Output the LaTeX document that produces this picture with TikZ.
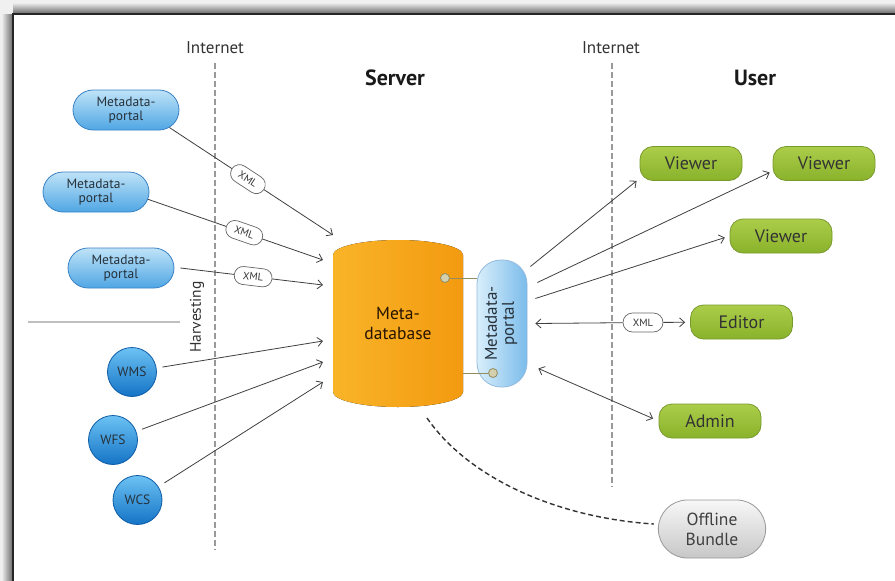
\documentclass[tikz,border=0pt]{standalone}
\usepackage{fontspec}
\setmainfont{PT Sans}
\usetikzlibrary{arrows.meta,shapes.geometric,shapes.misc,calc}
\definecolor{bluetop}{HTML}{BFE3F8}
\definecolor{bluebot}{HTML}{4FA6E4}
\definecolor{blueborder}{HTML}{3A82C4}
\definecolor{circtop}{HTML}{6CC2F3}
\definecolor{circbot}{HTML}{1473C6}
\definecolor{circborder}{HTML}{0E5DA6}
\definecolor{greentop}{HTML}{ABCD4A}
\definecolor{greenbot}{HTML}{8AB22B}
\definecolor{greenborder}{HTML}{789A2C}
\definecolor{orangeL}{HTML}{F9B428}
\definecolor{orangeR}{HTML}{F39A10}
\definecolor{darktext}{HTML}{26313A}
\definecolor{dotcol}{HTML}{B8B078}
\begin{document}
\begin{tikzpicture}[x=1pt,y=-1pt,
  bluepill/.style={rounded rectangle, draw=blueborder, line width=0.8pt,
    top color=bluetop, bottom color=bluebot, minimum width=108pt,
    minimum height=40pt, inner sep=1pt, align=center,
    font=\fontsize{13.5}{14}\selectfont, text=darktext},
  sphere/.style={circle, draw=circborder, line width=0.8pt, top color=circtop,
    bottom color=circbot, minimum size=49pt, inner sep=0pt,
    font=\fontsize{13.5}{14}\selectfont, text=darktext},
  greenpill/.style={rectangle, rounded corners=13pt, draw=greenborder,
    line width=0.8pt, top color=greentop, bottom color=greenbot,
    minimum width=102pt, minimum height=34pt, inner sep=1pt,
    font=\fontsize{18}{18}\selectfont, text=black!80},
  xmlbox/.style={rounded rectangle, draw=black!60, fill=white, line width=0.7pt,
    minimum width=40pt, minimum height=18pt, inner sep=1pt,
    font=\fontsize{10.5}{11}\selectfont, text=black!80},
  arr/.style={draw=black!75, line width=0.8pt, -{Straight Barb[length=5pt,width=9pt]}},
  darr/.style={draw=black!75, line width=0.8pt, {Straight Barb[length=5pt,width=9pt]}-{Straight Barb[length=5pt,width=9pt]}},
  netline/.style={draw=black!40, line width=1.3pt, dash pattern=on 6pt off 3pt},
  heading/.style={font=\fontsize{22}{22}\selectfont\bfseries, text=black!90},
  netlabel/.style={font=\fontsize{17}{17}\selectfont, text=black!80},
  dot/.style={circle, draw=dotcol!80!black, fill=dotcol!60, line width=0.8pt, minimum size=9pt, inner sep=0pt},
  link/.style={draw=dotcol!80!black, line width=0.9pt}
]
\useasboundingbox (0,0) rectangle (895,581);
% frame with shadow
\fill[black!6] (0,0) rectangle (895,581);
\shade[left color=black!8, right color=black!60] (2,14) rectangle (13,581);
\shade[top color=black!8, bottom color=black!60] (13,3) rectangle (895,14);
\fill[white] (13,14) rectangle (895,581);
\draw[line width=2.2pt, black!85] (13,581) -- (13,14) -- (895,14);

% internet lines and labels
\node[netlabel] (net1) at (215,48) {Internet};
\node[netlabel] (net2) at (611,48) {Internet};
\coordinate (n1b) at (215,550);
\coordinate (n2b) at (612,487);
\draw[netline] (net1.south |- 0,63) -- (n1b);
\draw[netline] (n2b |- 0,63) -- (n2b);
\node[heading] (server) at (395,78) {Server};
\node[heading] (user) at (755,78) {User};

% separator and harvesting
\draw[black!25, line width=1.2pt] (28,322) -- (180,322);
\node[rotate=90, font=\fontsize{15.5}{16}\selectfont, text=black!80] (harv) at (197,317) {Harvesting};

% left nodes
\node[bluepill] (mp1) at (126,110) {Metadata-\\portal};
\node[bluepill] (mp2) at (96,192) {Metadata-\\portal};
\node[bluepill] (mp3) at (121,268) {Metadata-\\portal};
\node[sphere] (wms) at (132,372) {WMS};
\node[sphere] (wfs) at (113,440) {WFS};
\node[sphere] (wcs) at (137.5,500) {WCS};

% database cylinder
\fill[left color=orangeL, right color=orangeR]
  (333,255) .. controls (333,246.7) and (362.1,240) .. (398,240)
  .. controls (433.9,240) and (463,246.7) .. (463,255)
  -- (463,392) .. controls (463,400.3) and (433.9,407) .. (398,407)
  .. controls (362.1,407) and (333,400.3) .. (333,392) -- cycle;
\node[minimum width=130pt, minimum height=167pt, align=center,
  font=\fontsize{17.5}{20}\selectfont, text=black!75!orange!60!black] (db) at (398,323.5) {Meta-\\database};

% metadata portal (vertical)
\node[rectangle, rounded corners=24pt, draw=blueborder!55, line width=0.8pt,
  left color=bluetop!60!white, right color=bluebot!75!white,
  minimum width=50pt, minimum height=127pt, inner sep=0pt,
  font=\fontsize{17}{17}\selectfont, text=darktext] (portal) at (502,323.5)
  {\rotatebox{90}{\begin{tabular}{@{}c@{}}Metadata-\\portal\end{tabular}}};

\node[dot] (d1) at (445,278) {};
\node[dot] (d2) at (493,373) {};
\draw[link] (d1) -- (d1 -| portal.west);
\draw[link] (d2 -| db.east) -- (d2);

% right nodes
\node[greenpill] (v1) at (691,163.5) {Viewer};
\node[greenpill] (v2) at (824,163.5) {Viewer};
\node[greenpill] (v3) at (781,236) {Viewer};
\node[greenpill] (editor) at (741.5,322) {Editor};
\node[greenpill] (admin) at (710,421) {Admin};
\node[rounded rectangle, draw=black!40, line width=0.8pt, top color=black!3,
  bottom color=black!22, minimum width=114pt, minimum height=58pt,
  align=center, font=\fontsize{17.5}{20}\selectfont, text=black!75] (offline) at (712,529) {Offline\\Bundle};

% targets on the database side
\coordinate (t1) at (333,235);
\coordinate (t2) at (323,260);
\coordinate (t3) at (323,285);
\coordinate (t4) at (323,341);
\coordinate (t5) at (323,362);
\coordinate (t6) at (323,382);

\draw[arr] (mp1.-22) -- node[xmlbox, sloped, pos=0.48] {XML} (t1);
\draw[arr] (mp2.-8) -- node[xmlbox, sloped, pos=0.55] {XML} (t2);
\draw[arr] ([xshift=6pt]mp3.east) -- node[xmlbox, sloped, pos=0.51] {XML} (t3);
\draw[arr, shorten <=6pt] (wms) -- (t4);
\draw[arr, shorten <=6pt] (wfs) -- (t5);
\draw[arr, shorten <=7pt] (wcs) -- (t6);

% right side connectors
\coordinate (s1) at ($(portal.east)+(3,-57)$);
\coordinate (s2) at ($(portal.east)+(10,-41)$);
\coordinate (s3) at ($(portal.east)+(8,-25)$);
\coordinate (s4) at ($(portal.east)+(8,0)$);
\coordinate (s5) at ($(portal.east)+(11,45)$);
\draw[arr] (s1) -- ([xshift=-3pt]v1.south west);
\draw[arr] (s2) -- ($(v2.west)+(-3,9)$);
\draw[arr, shorten >=5pt] (s3) -- (v3.west);
\node[xmlbox, minimum width=42pt, minimum height=19pt] (xmle) at (643,322.5) {XML};
\draw[arr] (xmle) -- (s4);
\draw[arr, shorten >=5pt] (xmle) -- (editor);
\draw[darr, shorten >=6pt] (s5) -- (admin.west);

% offline bundle dashed link
\coordinate (dstart) at (427,418);
\draw[black!80, line width=1.4pt, dash pattern=on 5pt off 3pt]
  (dstart) .. controls (470,480) and (560,518) .. ([shift={(-4,-5)}]offline.west);
\end{tikzpicture}
\end{document}
